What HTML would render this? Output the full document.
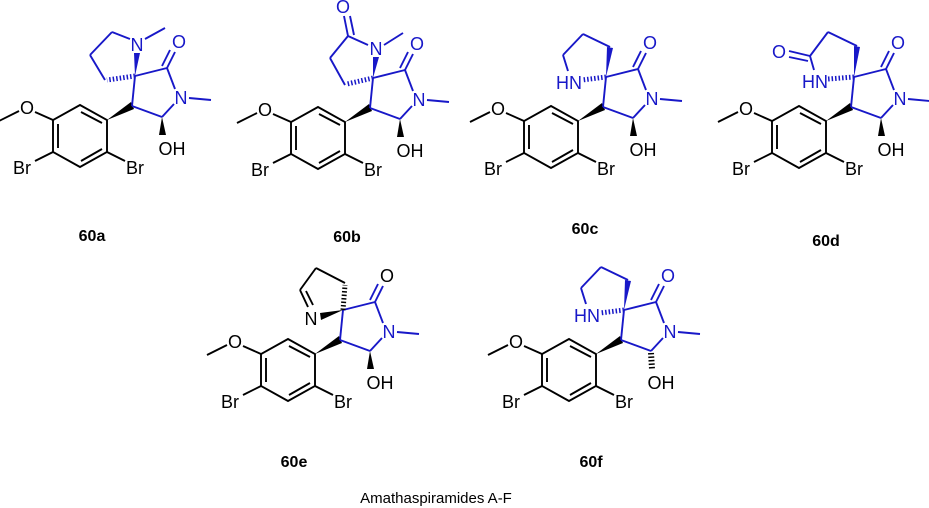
<!DOCTYPE html>
<html><head><meta charset="utf-8"><style>
html,body{margin:0;padding:0;background:#fff}
svg{display:block}
text{font-family:"Liberation Sans",Arial,sans-serif}
.a{font-size:18px;text-anchor:middle}
.b{fill:#1818c8}
.lb{font-size:16px;font-weight:bold;text-anchor:middle}
</style></head><body>
<svg width="929" height="508" viewBox="0 0 929 508" xmlns="http://www.w3.org/2000/svg">
<defs>
<g id="core">
 <g stroke="#000" stroke-width="1.9" fill="none">
  <polygon points="-55,29 -28,44 -28,76 -55,91 -82,76 -82,44"/>
  <line x1="-54" y1="36" x2="-33" y2="47"/>
  <line x1="-33" y1="73" x2="-54" y2="85"/>
  <line x1="-77" y1="48" x2="-77" y2="72"/>
  <line x1="-82" y1="44" x2="-100" y2="36"/>
  <line x1="-116" y1="35" x2="-136" y2="45"/>
  <line x1="-82" y1="76" x2="-100" y2="85"/>
  <line x1="-28" y1="76" x2="-10" y2="85"/>
 </g>
 <polygon points="-28,44 -4,26 -1,33" fill="#000"/>
 <g stroke="#1818c8" stroke-width="1.9" fill="none">
  <line x1="0" y1="0" x2="-3" y2="30"/>
  <line x1="-3" y1="30" x2="27" y2="41"/>
  <line x1="27" y1="41" x2="39" y2="28"/>
  <line x1="40" y1="13" x2="32" y2="-8"/>
  <line x1="32" y1="-8" x2="0" y2="0"/>
  <line x1="32" y1="-8" x2="40" y2="-24"/>
  <line x1="27" y1="-10" x2="35" y2="-26"/>
  <line x1="54" y1="22" x2="76" y2="24"/>
 </g>
</g>
<polygon id="ohw" points="27,41 24,59 31,59" fill="#000"/>
<line id="ohh" x1="27" y1="43" x2="28" y2="59" stroke="#000" stroke-width="6" stroke-dasharray="1.5 2"/>
</defs>

<!-- 60a -->
<g transform="translate(135,76)">
 <use href="#core"/><use href="#ohw"/>
 <g stroke="#1818c8" stroke-width="1.9" fill="none">
  <line x1="-5" y1="-37" x2="-23" y2="-44"/>
  <line x1="-23" y1="-44" x2="-45" y2="-21"/>
  <line x1="-45" y1="-21" x2="-30" y2="4"/>
  <line x1="10" y1="-37" x2="30" y2="-48"/>
  <line x1="0" y1="0" x2="-28" y2="4" stroke-width="5" stroke-dasharray="1.5 2"/>
 </g>
 <polygon points="0,0 -1,-23 5,-23" fill="#1818c8"/>
 <text class="a b" x="2" y="-25">N</text>
 <text class="a b" x="44" y="-28">O</text>
 <text class="a b" x="46" y="28">N</text>
 <text class="a" x="37" y="79">OH</text>
 <text class="a" x="-108" y="38">O</text>
 <text class="a" x="-113" y="98">Br</text>
 <text class="a" x="0" y="98">Br</text>
</g>
<text class="lb" x="92" y="241">60a</text>

<!-- 60b -->
<g transform="translate(373,78)">
 <use href="#core"/><use href="#ohw"/>
 <g stroke="#1818c8" stroke-width="1.9" fill="none">
  <line x1="-5" y1="-33" x2="-25" y2="-42"/>
  <line x1="-25" y1="-42" x2="-29" y2="-62"/>
  <line x1="-19" y1="-43" x2="-23" y2="-62"/>
  <line x1="-25" y1="-42" x2="-43" y2="-20"/>
  <line x1="-43" y1="-20" x2="-28" y2="7"/>
  <line x1="11" y1="-33" x2="30" y2="-45"/>
  <line x1="0" y1="0" x2="-26" y2="6" stroke-width="5" stroke-dasharray="1.5 2"/>
 </g>
 <polygon points="0,0 0,-21 6,-21" fill="#1818c8"/>
 <text class="a b" x="3" y="-23">N</text>
 <text class="a b" x="-30" y="-65">O</text>
 <text class="a b" x="44" y="-28">O</text>
 <text class="a b" x="46" y="28">N</text>
 <text class="a" x="37" y="79">OH</text>
 <text class="a" x="-108" y="38">O</text>
 <text class="a" x="-113" y="98">Br</text>
 <text class="a" x="0" y="98">Br</text>
</g>
<text class="lb" x="347" y="242">60b</text>

<!-- 60c -->
<g transform="translate(606,77)">
 <use href="#core"/><use href="#ohw"/>
 <g stroke="#1818c8" stroke-width="1.9" fill="none">
  <line x1="-38" y1="-6" x2="-43" y2="-22"/>
  <line x1="-43" y1="-22" x2="-23" y2="-43"/>
  <line x1="-23" y1="-43" x2="4" y2="-30"/>
  <line x1="0" y1="0" x2="-24" y2="3" stroke-width="5" stroke-dasharray="1.5 2"/>
 </g>
 <polygon points="0,0 1,-30 7,-29" fill="#1818c8"/>
 <text class="a b" x="-37" y="12">HN</text>
 <text class="a b" x="44" y="-28">O</text>
 <text class="a b" x="46" y="28">N</text>
 <text class="a" x="37" y="79">OH</text>
 <text class="a" x="-108" y="38">O</text>
 <text class="a" x="-113" y="98">Br</text>
 <text class="a" x="0" y="98">Br</text>
</g>
<text class="lb" x="585" y="234">60c</text>

<!-- 60d -->
<g transform="translate(854,77)">
 <use href="#core"/><use href="#ohw"/>
 <g stroke="#1818c8" stroke-width="1.9" fill="none">
  <line x1="-40" y1="-7" x2="-44" y2="-21"/>
  <line x1="-44" y1="-21" x2="-65" y2="-26"/>
  <line x1="-46" y1="-16" x2="-65" y2="-20"/>
  <line x1="-44" y1="-21" x2="-26" y2="-45"/>
  <line x1="-26" y1="-45" x2="3" y2="-31"/>
  <line x1="0" y1="0" x2="-26" y2="2" stroke-width="5" stroke-dasharray="1.5 2"/>
 </g>
 <polygon points="0,0 0,-31 6,-30" fill="#1818c8"/>
 <text class="a b" x="-39" y="11">HN</text>
 <text class="a b" x="-75" y="-19">O</text>
 <text class="a b" x="44" y="-28">O</text>
 <text class="a b" x="46" y="28">N</text>
 <text class="a" x="37" y="79">OH</text>
 <text class="a" x="-108" y="38">O</text>
 <text class="a" x="-113" y="98">Br</text>
 <text class="a" x="0" y="98">Br</text>
</g>
<text class="lb" x="826" y="246">60d</text>

<!-- 60e -->
<g transform="translate(343,310)">
 <use href="#core"/><use href="#ohw"/>
 <g stroke="#000" stroke-width="1.9" fill="none">
  <line x1="-35" y1="-3" x2="-43" y2="-20"/>
  <line x1="-30" y1="-5" x2="-37" y2="-19"/>
  <line x1="-43" y1="-20" x2="-27" y2="-42"/>
  <line x1="-27" y1="-42" x2="2" y2="-27"/>
  <line x1="0" y1="0" x2="2" y2="-25" stroke-width="5" stroke-dasharray="1.5 2"/>
 </g>
 <polygon points="0,0 -23,3 -22,10" fill="#000"/>
 <text class="a" x="-32" y="15">N</text>
 <text class="a" x="44" y="-28">O</text>
 <text class="a b" x="46" y="28">N</text>
 <text class="a" x="37" y="79">OH</text>
 <text class="a" x="-108" y="38">O</text>
 <text class="a" x="-113" y="98">Br</text>
 <text class="a" x="0" y="98">Br</text>
</g>
<text class="lb" x="294" y="467">60e</text>

<!-- 60f -->
<g transform="translate(624,310)">
 <use href="#core"/><use href="#ohh"/>
 <g stroke="#1818c8" stroke-width="1.9" fill="none">
  <line x1="-38" y1="-6" x2="-43" y2="-22"/>
  <line x1="-43" y1="-22" x2="-23" y2="-43"/>
  <line x1="-23" y1="-43" x2="4" y2="-30"/>
  <line x1="0" y1="0" x2="-24" y2="3" stroke-width="5" stroke-dasharray="1.5 2"/>
 </g>
 <polygon points="0,0 1,-30 7,-29" fill="#1818c8"/>
 <text class="a b" x="-37" y="12">HN</text>
 <text class="a b" x="44" y="-28">O</text>
 <text class="a b" x="46" y="28">N</text>
 <text class="a" x="37" y="79">OH</text>
 <text class="a" x="-108" y="38">O</text>
 <text class="a" x="-113" y="98">Br</text>
 <text class="a" x="0" y="98">Br</text>
</g>
<text class="lb" x="591" y="467">60f</text>

<text x="436" y="503" font-size="15" text-anchor="middle">Amathaspiramides A-F</text>
</svg>
</body></html>
